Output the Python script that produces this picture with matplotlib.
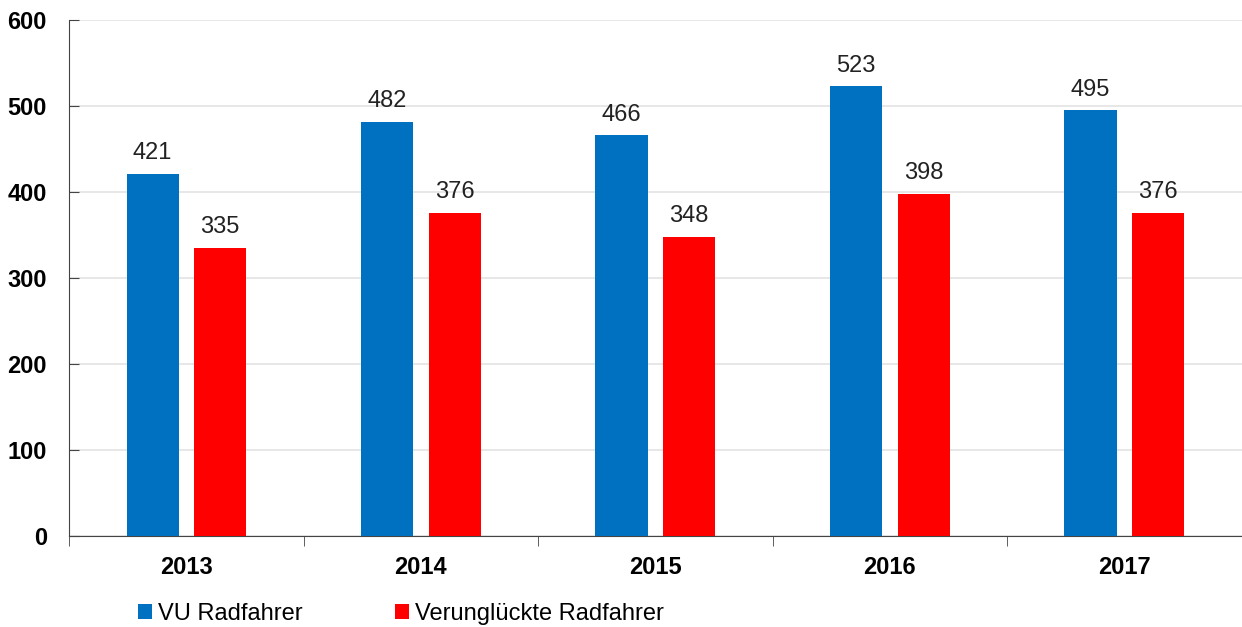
import numpy as np
import matplotlib.pyplot as plt

plt.rcParams['font.family'] = ['Liberation Sans', 'DejaVu Sans']

years = ['2013', '2014', '2015', '2016', '2017']
vu_radfahrer = [421, 482, 466, 523, 495]
verunglueckte = [335, 376, 348, 398, 376]

fig = plt.figure(figsize=(12.42, 6.27), dpi=100)
ax = fig.add_axes([0.0556, 0.145, 0.944, 0.823])

x = np.arange(len(years))
w = 0.222
b1 = ax.bar(x - 0.144, vu_radfahrer, w, color='#0070C0', label='VU Radfahrer', zorder=3)
b2 = ax.bar(x + 0.144, verunglueckte, w, color='#FF0000', label='Verunglückte Radfahrer', zorder=3)

for bars in (b1, b2):
    ax.bar_label(bars, padding=7, fontsize=17, color='#222222')

ax.set_xlim(-0.5, 4.5)
ax.set_ylim(0, 600)
ax.set_yticks(range(0, 601, 100))
ax.yaxis.grid(True, color='#e3e3e3', linewidth=1.2, zorder=0)
ax.tick_params(axis='y', direction='in', length=7, labelsize=17, pad=16, color='#444444')
for lbl in ax.get_yticklabels():
    lbl.set_fontweight('bold')

ax.set_xticks(x)
ax.set_xticklabels(years, fontsize=17, fontweight='bold')
ax.tick_params(axis='x', length=0, pad=14)
ax.set_xticks(np.arange(-0.5, 4.6, 1.0)[:-1], minor=True)
ax.tick_params(axis='x', which='minor', length=7, direction='out', color='#444444')

for s in ('top', 'right'):
    ax.spines[s].set_visible(False)
ax.spines['left'].set_color('#444444')
ax.spines['bottom'].set_color('#444444')

fig.legend(handles=[b1, b2], loc='lower left', bbox_to_anchor=(0.094, -0.031), ncol=2,
           frameon=False, fontsize=17, handlelength=0.6, handleheight=0.6,
           handletextpad=0.25, columnspacing=3.9)

fig.savefig('out.png', dpi=100)
